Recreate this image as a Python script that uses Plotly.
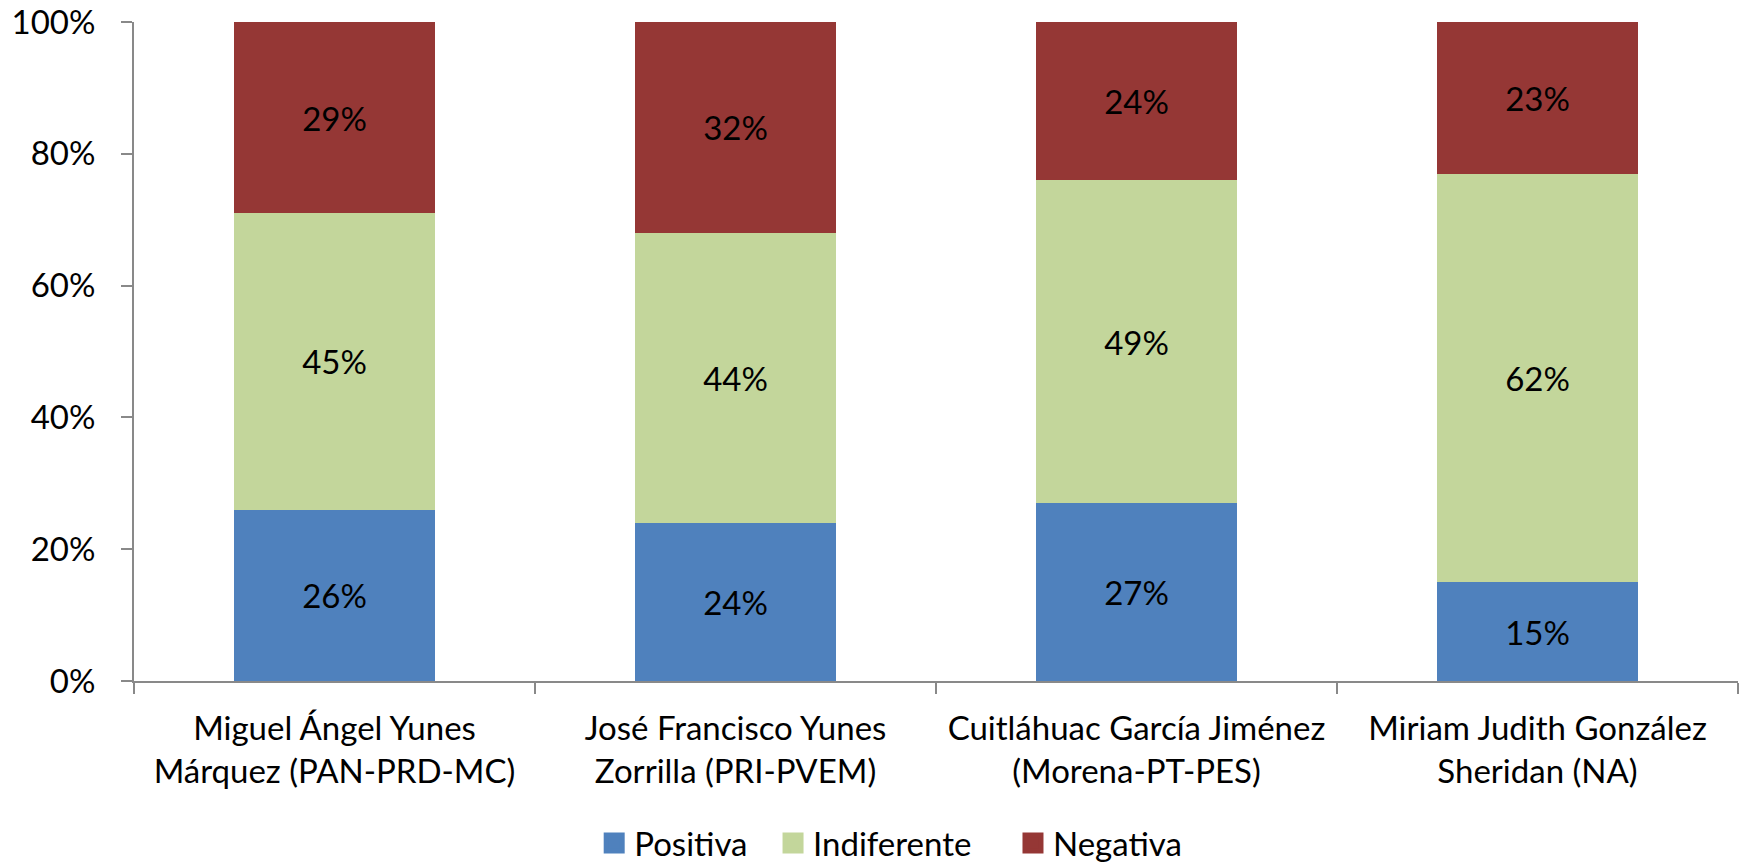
import plotly.graph_objects as go

categories = [
    "Miguel Ángel Yunes<br>Márquez (PAN-PRD-MC)",
    "José Francisco Yunes<br>Zorrilla (PRI-PVEM)",
    "Cuitláhuac García Jiménez<br>(Morena-PT-PES)",
    "Miriam Judith González<br>Sheridan (NA)",
]
positiva = [26, 24, 27, 15]
indiferente = [45, 44, 49, 62]
negativa = [29, 32, 24, 23]

y_tickvals = [0, 20, 40, 60, 80, 100]
y_ticktext = ["0%", "20%", "40%", "60%", "80%", "100%"]

series = [
    ("Positiva", positiva, "#4F81BD", "legend"),
    ("Indiferente", indiferente, "#C3D69B", "legend2"),
    ("Negativa", negativa, "#953735", "legend3"),
]

FONT = "Lato"
FS = 33
AXIS_COLOR = "#898989"

fig = go.Figure()
for name, vals, color, leg in series:
    fig.add_trace(go.Bar(
        x=categories, y=vals, name=name,
        marker=dict(color=color, line=dict(width=0)),
        text=[f"{v}%" for v in vals],
        textposition="inside", insidetextanchor="middle", textangle=0,
        textfont=dict(family=FONT, size=FS, color="black"),
        showlegend=False,
    ))

# legend entries (bigger square swatches)
for name, vals, color, leg in series:
    fig.add_trace(go.Scatter(
        x=[None], y=[None], mode="markers", name=name,
        marker=dict(symbol="square", size=16, color=color, line=dict(color=color, width=5)),
        legend=leg, showlegend=True, hoverinfo="skip",
    ))

leg_common = dict(orientation="h", xanchor="left", yanchor="middle", y=-0.2458,
                  font=dict(family=FONT, size=FS, color="black"),
                  bgcolor="rgba(0,0,0,0)", borderwidth=0)

fig.update_layout(
    barmode="stack",
    bargap=0.5,
    width=1750, height=863,
    margin=dict(l=134, r=12, t=22, b=182, autoexpand=False),
    paper_bgcolor="white", plot_bgcolor="white",
    font=dict(family=FONT, size=FS, color="black"),
    legend=dict(x=0.2869, **leg_common),
    legend2=dict(x=0.3984, **leg_common),
    legend3=dict(x=0.5480, **leg_common),
    xaxis=dict(showline=True, linecolor=AXIS_COLOR, linewidth=2, automargin=False,
               ticks="outside", ticklen=11, tickwidth=2, tickcolor=AXIS_COLOR, tickson="boundaries",
               tickfont=dict(family=FONT, size=FS), ticklabelstandoff=17,
               ticklabeloverflow="allow"),
    yaxis=dict(range=[0, 100], tickmode="array", tickvals=y_tickvals, ticktext=y_ticktext,
               showline=True, linecolor=AXIS_COLOR, linewidth=2, showgrid=False, zeroline=False,
               automargin=False,
               ticks="outside", ticklen=11, tickwidth=2, tickcolor=AXIS_COLOR,
               tickfont=dict(family=FONT, size=FS), ticklabelstandoff=19,
               ticklabeloverflow="allow"),
)

fig.write_html("out.html", config={"displayModeBar": False},
               post_script="document.body.style.margin='0px';")
